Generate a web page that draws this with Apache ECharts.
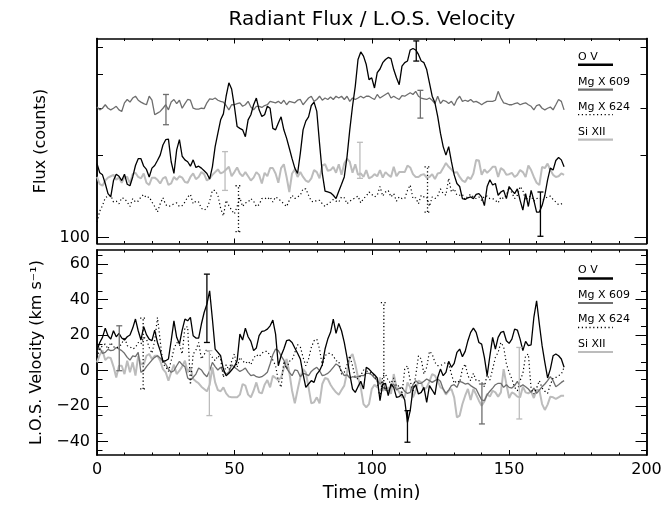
<!DOCTYPE html>
<html><head><meta charset="utf-8">
<script src="https://cdn.jsdelivr.net/npm/echarts@6/dist/echarts.min.js"></script>
<style>html,body{margin:0;padding:0;background:#fff}#c{width:672px;height:506px}</style>
</head><body><div id="c"></div>
<script>
// sampling grid (minutes)
const time = Array.from({length:171},(_,i)=>i);

// ---- Radiant flux (counts) ----
const fluxOV = [
187,173,170,158,145,141,162,171,168,162,
171,157,155,167,184,195,195,183,178,167,
180,184,192,201,219,229,230,190,172,210,
229,199,193,190,183,193,181,183,180,176,
172,164,182,216,242,271,285,331,371,352,
304,256,252,249,235,271,283,308,326,295,
279,283,304,299,252,249,264,278,249,232,
213,195,180,172,204,249,268,278,306,315,
291,222,172,148,147,146,143,139,148,157,
167,198,249,304,360,452,482,465,433,381,
387,355,404,417,440,452,460,455,415,387,
365,427,440,446,490,496,490,472,446,440,
415,371,331,313,279,242,216,201,216,190,
170,158,154,139,138,140,141,139,144,145,
141,131,154,163,156,158,143,147,149,139,
154,149,145,151,137,126,145,130,149,137,
124,124,131,143,163,180,177,192,197,193,
182];
const fluxMg609 = [
302,295,299,308,299,295,299,304,295,291,
313,322,315,326,331,320,315,311,308,331,
320,283,287,291,299,308,295,315,322,311,
320,299,311,322,320,299,297,297,299,298,
313,324,322,326,320,317,315,306,295,308,
308,311,313,304,308,317,302,295,304,304,
301,306,308,317,315,313,317,311,320,308,
317,315,313,320,322,308,317,326,331,317,
322,331,320,326,322,329,322,331,326,331,
322,331,317,326,322,326,331,326,331,331,
326,322,336,326,331,336,341,326,331,326,
322,333,331,336,341,336,345,331,326,324,
322,326,320,311,331,311,320,317,311,317,
306,322,331,317,320,317,322,315,317,313,
308,313,317,317,317,320,345,326,313,311,
308,308,311,313,308,311,313,308,304,295,
306,308,299,295,299,302,295,308,322,317,
295];
const fluxMg624 = [
114,125,131,140,142,143,135,136,133,140,
139,135,130,139,135,136,141,144,140,141,
135,130,124,133,140,132,130,131,133,134,
130,131,135,141,144,133,136,135,128,126,
128,136,149,149,143,128,120,137,131,126,
122,130,140,130,134,135,139,136,130,132,
139,140,138,141,135,141,139,136,133,130,
137,143,139,141,143,151,151,143,136,135,
137,137,133,130,133,135,138,136,135,141,
140,133,136,138,140,142,134,139,142,147,
144,141,143,154,142,147,149,141,145,136,
141,139,139,149,156,139,140,133,143,141,
141,130,141,139,142,151,145,143,165,147,
151,143,143,144,138,142,144,141,139,141,
137,142,142,139,139,137,134,141,139,143,
153,146,139,143,154,149,137,141,142,136,
139,140,137,139,141,142,138,135,132,133,
133];
const fluxSi = [
167,157,155,162,166,168,170,163,166,159,
167,167,158,171,173,167,165,172,159,156,
166,166,163,158,165,167,156,158,167,163,
168,166,160,159,167,172,164,167,174,171,
162,165,170,174,178,172,174,178,182,168,
174,181,172,168,174,168,162,166,174,170,
158,173,168,180,180,172,159,180,186,167,
147,172,178,167,174,167,162,160,165,177,
174,165,184,186,176,177,182,173,186,170,
187,195,190,173,186,170,172,167,177,165,
167,171,168,177,166,174,170,167,182,168,
174,174,174,184,181,171,167,167,170,171,
166,167,171,164,172,173,180,188,182,178,
173,174,167,162,160,167,164,172,193,192,
170,178,173,177,182,182,167,180,177,170,
171,173,167,170,177,174,167,184,177,167,
159,156,182,180,187,177,170,167,168,172,
170];

// ---- L.O.S. velocity (km/s) ----
const velOV = [
11.3,15.9,18.8,24.0,19.7,17.8,22.5,19.1,21.0,18.4,
17.3,19.1,20.1,24.0,29.1,22.5,17.3,24.8,20.3,17.8,
16.9,22.9,15.9,11.3,5.3,5.6,6.6,16.9,28.1,18.8,
15.0,22.9,29.1,28.1,30.0,19.7,18.4,18.4,26.3,32.8,
37.5,45.0,29.1,12.2,10.3,8.4,0.9,-2.8,-1.5,0.4,
2.3,5.6,20.6,17.3,24.0,19.1,16.5,11.3,12.8,19.7,
22.1,22.5,23.4,25.3,28.5,20.6,2.8,8.4,12.2,16.9,
17.3,15.9,12.8,9.8,6.6,-1.9,-9.4,-7.5,-5.6,-6.6,
-1.9,0,3.4,12.2,17.8,21.6,29.1,21.0,26.6,22.5,
15.9,7.5,-1.9,-10.3,-12.2,-9.0,-6.0,-10.3,1.9,0.9,
-0.9,-2.3,-4.1,-16.9,-7.5,-7.1,-14.1,-7.5,-9.4,-15.0,
-14.6,-13.1,-16.5,-29.1,-22.5,-10.3,-7.9,-13.1,-12.2,-9.4,
-17.8,-8.4,-10.9,-13.5,-3.8,0.9,-2.8,-0.9,5.3,1.9,
4.1,10.3,12.2,7.9,10.9,16.9,21.6,24.0,21.6,15.9,
15.0,7.5,-2.8,8.4,18.8,12.2,18.8,21.6,22.1,16.9,
15.4,17.8,23.4,22.9,17.8,11.3,16.5,14.1,14.6,30.0,
39.4,26.3,14.1,4.7,-4.1,0.9,8.4,9.4,8.4,6.6,
1.9];
const velMg609 = [
11.3,12.8,9.8,10.3,12.0,11.3,11.6,13.1,12.2,11.3,
9.8,7.5,6.0,8.4,7.9,10.3,-0.9,0,2.3,4.1,
6.0,7.5,8.4,7.1,5.3,3.8,0.9,-0.9,0,2.8,
5.3,3.4,2.3,-4.1,-5.3,-3.8,-1.9,1.5,0.4,-1.9,
-3.4,0,4.7,2.3,0.4,1.9,-0.4,-1.9,-0.9,3.4,
1.9,0.8,-0.4,0.4,1.5,-0.9,-2.8,-2.3,-3.4,-3.8,
-3.4,-2.3,-0.9,3.8,9.0,12.2,11.3,8.4,6.0,1.5,
-0.9,-2.8,0.4,0,-3.4,-1.5,-1.9,-2.8,-0.4,0.9,
1.9,0,-2.8,-2.3,-1.5,0,1.9,3.8,2.8,-0.4,
-2.8,-2.3,-4.1,-3.4,-3.8,-3.4,-2.8,-2.8,-1.5,-1.5,
-2.3,-4.1,-5.6,-7.5,-6.0,-10.9,-11.6,-9.0,-7.5,-10.9,
-9.8,-9.4,-11.6,-12.8,-12.2,-7.9,-5.6,-7.1,-7.1,-6.0,
-4.7,-5.6,-6.6,-5.6,-4.7,-6.0,-10.3,-12.8,-10.9,-8.4,
-7.9,-9.4,-6.0,-6.6,-7.5,-7.1,-8.4,-9.4,-10.3,-13.5,
-16.5,-16.9,-13.5,-11.6,-9.8,-7.9,-7.1,-7.1,-9.4,-7.9,
-9.4,-9.8,-8.4,-6.0,-9.0,-7.9,-9.0,-10.3,-12.2,-9.8,
-12.8,-10.9,-9.0,-7.5,-5.6,-3.4,-5.6,-9.0,-7.9,-6.6,
-5.6];
const velMg624 = [
7.5,12.2,14.1,15.0,12.2,15.9,13.5,12.8,13.5,15.0,
19.1,14.1,13.5,12.2,13.1,15.9,15.0,18.8,17.8,13.1,
9.8,16.9,30.0,16.9,3.8,2.3,-0.4,5.6,12.2,15.9,
15.0,9.4,24.4,24.8,-7.9,9.4,11.6,15.9,6.6,9.0,
12.2,9.4,7.5,5.6,8.4,6.6,-3.8,3.4,0.4,5.3,
9.4,1.9,7.5,5.6,4.1,5.3,3.4,7.1,9.0,7.9,
9.8,10.9,10.9,8.4,6.0,2.8,-5.6,-9.4,5.3,0.9,
5.3,6.0,10.3,14.6,13.5,7.5,2.8,6.6,13.1,16.9,
17.8,12.2,2.8,8.4,9.8,9.8,8.4,5.6,5.3,-1.9,
-0.9,3.4,8.4,2.8,-3.8,-4.7,-2.8,0.4,0,-0.9,
-1.5,-2.8,-6.0,-15.9,-3.0,-1.9,-5.6,-7.1,-4.1,-9.0,
-8.4,-13.1,0.9,2.8,-5.6,-12.2,-2.8,8.4,6.6,-1.9,
1.9,10.9,9.4,4.7,2.8,2.8,3.8,4.7,3.8,-1.9,
-7.1,-5.6,-6.6,0.9,3.8,-2.8,-5.6,-1.5,-5.6,-5.6,
-6.6,-9.0,-2.3,-5.3,0.9,7.5,10.3,15.9,13.5,3.8,
-0.9,-4.7,-9.4,-11.3,-5.6,-1.5,8.4,9.4,-10.3,-13.1,
-9.8,-5.6,-9.8,-11.6,-12.8,-7.9,-4.1,-3.8,-2.8,-1.9,
1.9];
const velSi = [
4.7,9.0,11.3,6.0,7.5,7.1,2.3,-3.8,2.8,2.8,
-1.9,5.6,-0.9,4.7,-2.8,8.4,3.8,3.4,8.4,9.4,
6.6,8.4,8.4,5.6,0.9,-0.9,-5.6,-0.9,3.4,-1.9,
0,2.3,5.6,-0.9,1.9,-4.7,-6.0,-7.1,-9.0,-10.3,
-11.6,-8.0,1.9,-6.6,-10.9,-11.6,-9.4,-12.8,-14.6,-15.0,
-15.0,-15.0,-13.5,-7.5,-8.4,-13.5,-15.0,-11.3,-6.6,-12.2,
-12.8,-7.9,-5.3,-9.4,-2.8,-4.1,-5.3,-3.8,1.5,6.6,
-0.9,-11.3,-18.4,-10.9,-3.8,0.9,-0.9,-9.4,-18.4,-17.8,
-15.0,-18.4,-7.5,-4.1,-4.7,-7.9,-10.3,-12.2,-13.5,-10.9,
-8.4,-0.9,7.5,9.4,3.8,-3.8,-9.4,-18.8,-20.6,-18.8,
-10.3,-7.9,-9.4,-3.8,-11.3,-10.3,-9.4,-13.1,-1.9,-9.4,
-12.2,-15.0,-15.0,-6.6,-9.4,-15.0,-11.3,-5.6,-6.6,-10.9,
-9.4,-6.0,-1.9,-2.8,-5.6,-9.4,-10.3,-13.5,-11.3,-10.3,
-15.0,-26.3,-25.3,-18.8,-14.1,-10.3,-16.5,-10.3,-13.5,-16.9,
-19.7,-17.3,-13.1,-14.6,-11.3,-12.2,-14.6,-12.2,0.9,-7.5,
-15.4,-12.2,-13.1,-14.6,-15.0,-9.0,-12.2,-12.8,-11.6,-15.4,
-10.9,-10.9,-18.8,-22.1,-19.1,-14.6,-15.0,-15.9,-15.0,-14.1,
-14.1];

// ---- error bars [time, low, high] ----
const fluxErrOV = [[116.2,446,529],[161.4,101,147]];
const fluxErrMg609 = [[25.1,260,336],[117.7,275,348]];
const fluxErrMg624 = [[51.5,105,155],[120.3,124,182]];
const fluxErrSi = [[46.6,149,207],[95.7,165,224]];
const velErrOV = [[40.0,15.9,54.4],[113.0,-40.3,-22.5]];
const velErrMg609 = [[8.1,0,25.3],[140.1,-30,-7.5]];
const velErrMg624 = [[16.8,-10.3,29.6],[104.4,-10,38.4]];
const velErrSi = [[40.9,-25.3,11.3],[153.7,-27.2,13.1]];

// ---- axis ticks / labels ----
const xTicks = [0,50,100,150,200];
const fluxMajor = [100];
const fluxMinor = [200,300,400,500];
const velMajor = [-40,-20,0,20,40,60];
const velMinor = [-45,-35,-25,-15,-5,5,15,25,35,45,55,65];

const legendNames = ['O V','Mg X 609','Mg X 624','Si XII'];

const FONT = 'DejaVu Sans';
const C_OV = '#000000', C_609 = '#6e6e6e', C_624 = '#000000', C_SI = '#bcbcbc';
const DOT = [1.2, 2.6];

function pairs(v){ return v.map((y,i)=>[time[i], y]); }

function lineSeries(name, vals, color, width, dotted, xi, yi, z){
  return {type:'line', name, data:pairs(vals), xAxisIndex:xi, yAxisIndex:yi,
    symbol:'none', showSymbol:false, animation:false, silent:true, z,
    lineStyle:{color, width, type: dotted ? DOT : 'solid'}};
}
function errSeries(data, color, dotted, xi, yi){
  return {type:'custom', data, xAxisIndex:xi, yAxisIndex:yi, encode:{x:0,y:[1,2]},
    animation:false, silent:true, z:6,
    renderItem(params, api){
      const x = api.value(0), lo = api.value(1), hi = api.value(2);
      const a = api.coord([x, lo]), b = api.coord([x, hi]);
      const st = {stroke:color, lineWidth:1.3, lineDash: dotted ? [1.2,2.4] : null};
      return {type:'group', children:[
        {type:'line', shape:{x1:a[0],y1:a[1],x2:b[0],y2:b[1]}, style:st},
        {type:'line', shape:{x1:a[0]-3,y1:a[1],x2:a[0]+3,y2:a[1]}, style:st},
        {type:'line', shape:{x1:b[0]-3,y1:b[1],x2:b[0]+3,y2:b[1]}, style:st}
      ]};
    }};
}

const axLine = {show:true, onZero:false, lineStyle:{color:'#000', width:1.5}};
function xAx(grid, pos, labels, name){
  return {type:'value', gridIndex:grid, position:pos, min:0, max:200, interval:50,
    axisLine:axLine,
    axisTick:{show:true, inside:true, length:5, lineStyle:{color:'#000', width:1}},
    minorTick:{show:true, splitNumber:5, length:2.5, lineStyle:{color:'#000', width:1}},
    splitLine:{show:false}, minorSplitLine:{show:false},
    axisLabel:{show:labels, color:'#000', fontFamily:FONT, fontSize:16, margin:7,
      customValues: xTicks},
    name: name || '', nameLocation:'middle', nameGap:29,
    nameTextStyle:{color:'#000', fontFamily:FONT, fontSize:18}};
}
function yAx(grid, pos, type, min, max, ticks, len, labels, name){
  const o = {type, gridIndex:grid, position:pos, min, max,
    axisLine:axLine,
    axisTick:{show:true, inside:true, length:len, customValues:ticks, lineStyle:{color:'#000', width:1}},
    minorTick:{show:false}, splitLine:{show:false}, minorSplitLine:{show:false},
    axisLabel:{show:!!labels, color:'#000', fontFamily:FONT, fontSize:16, margin:7,
      customValues: labels || ticks,
      formatter: v => String(v).replace('-', '\u2212')},
    name: name || '', nameLocation:'middle', nameGap:45, nameRotate:90,
    nameTextStyle:{color:'#000', fontFamily:FONT, fontSize:16}};
  if (type === 'log') o.logBase = 10;
  return o;
}

const FMIN = 95, FMAX = 540, VMIN = -47.5, VMAX = 68;

function legend(top, step){
  const els = [];
  const colors = [C_OV, C_609, C_624, C_SI];
  const widths = [2.5, 2.2, 1.3, 2.2];
  legendNames.forEach((n,i)=>{
    const y = top + i*step;
    els.push({type:'text', x:578, y:y, silent:true,
      style:{text:n, font:'11px "DejaVu Sans"', fill:'#000', align:'left', verticalAlign:'middle'}});
    els.push({type:'line', silent:true, shape:{x1:578, y1:y+8, x2:613, y2:y+8},
      style:{stroke:colors[i], lineWidth:widths[i], lineDash: i===2 ? [1.2,2.6] : null}});
  });
  return els;
}

const chart = echarts.init(document.getElementById('c'), null, {renderer:'canvas'});
chart.setOption({
  animation:false,
  backgroundColor:'#fff',
  grid:[
    {left:97, top:38.5, width:549.5, height:205},
    {left:97, top:250, width:549.5, height:205}
  ],
  xAxis:[
    xAx(0,'bottom',false), xAx(0,'top',false),
    xAx(1,'bottom',true,'Time (min)'), xAx(1,'top',false)
  ],
  yAxis:[
    yAx(0,'left','log',FMIN,FMAX,fluxMajor,12,fluxMajor,'Flux (counts)'),
    yAx(0,'left','log',FMIN,FMAX,fluxMinor,6,null),
    yAx(0,'right','log',FMIN,FMAX,fluxMajor,12,null),
    yAx(0,'right','log',FMIN,FMAX,fluxMinor,6,null),
    yAx(1,'left','value',VMIN,VMAX,velMajor,11,velMajor,'L.O.S. Velocity (km s\u207B\u00B9)'),
    yAx(1,'left','value',VMIN,VMAX,velMinor,5.5,null),
    yAx(1,'right','value',VMIN,VMAX,velMajor,11,null),
    yAx(1,'right','value',VMIN,VMAX,velMinor,5.5,null)
  ],
  series:[
    lineSeries('Si XII', fluxSi, C_SI, 2, false, 0, 0, 2),
    lineSeries('Mg X 609', fluxMg609, C_609, 1.3, false, 0, 0, 3),
    lineSeries('Mg X 624', fluxMg624, C_624, 1.2, true, 0, 0, 3),
    lineSeries('O V', fluxOV, C_OV, 1.3, false, 0, 0, 4),
    errSeries(fluxErrSi, C_SI, false, 0, 0),
    errSeries(fluxErrMg609, C_609, false, 0, 0),
    errSeries(fluxErrMg624, C_624, true, 0, 0),
    errSeries(fluxErrOV, C_OV, false, 0, 0),
    lineSeries('Si XII', velSi, C_SI, 2, false, 2, 4, 2),
    lineSeries('Mg X 609', velMg609, C_609, 1.3, false, 2, 4, 3),
    lineSeries('Mg X 624', velMg624, C_624, 1.2, true, 2, 4, 3),
    lineSeries('O V', velOV, C_OV, 1.3, false, 2, 4, 4),
    errSeries(velErrSi, C_SI, false, 2, 4),
    errSeries(velErrMg609, C_609, false, 2, 4),
    errSeries(velErrMg624, C_624, true, 2, 4),
    errSeries(velErrOV, C_OV, false, 2, 4)
  ],
  graphic:[
    {type:'text', x:372, y:20, silent:true,
      style:{text:'Radiant Flux / L.O.S. Velocity', font:'20px "DejaVu Sans"', fill:'#000', align:'center', verticalAlign:'middle'}},
    ...legend(56.7, 25),
    ...legend(270.5, 24.5)
  ]
});
</script>
</body></html>
